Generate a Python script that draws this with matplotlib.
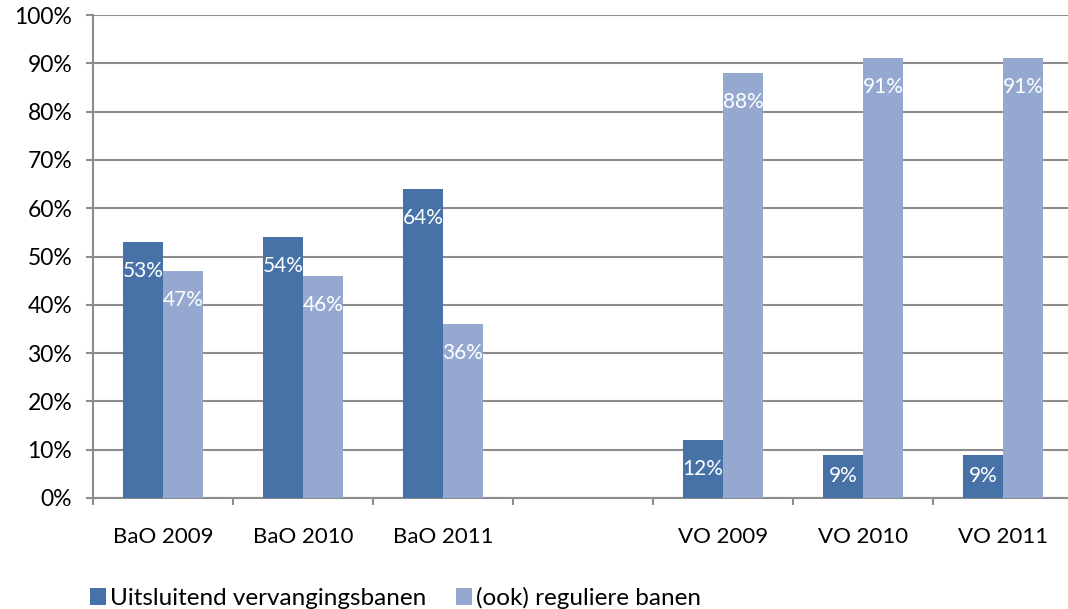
import numpy as np
import matplotlib
matplotlib.use("Agg")
import matplotlib.pyplot as plt
from matplotlib.ticker import FixedLocator, PercentFormatter

plt.rcParams['font.family'] = ['Lato', 'DejaVu Sans']

categories = ['BaO 2009', 'BaO 2010', 'BaO 2011', '', 'VO 2009', 'VO 2010', 'VO 2011']
uitsluitend = [53, 54, 64, np.nan, 12, 9, 9]
regulier = [47, 46, 36, np.nan, 88, 91, 91]
series_names = ['Uitsluitend vervangingsbanen', '(ook) reguliere banen']

dark = '#4672A7'
light = '#95A9D0'
grid_col = '#8C8C8C'

fig = plt.figure(figsize=(10.68, 6.09), dpi=100)
ax = fig.add_axes([93/1068, 111/609, 980/1068, 483/609])

x = np.arange(len(categories))
w = 0.286
b1 = ax.bar(x - w/2, uitsluitend, w, color=dark, label=series_names[0], zorder=3)
b2 = ax.bar(x + w/2, regulier, w, color=light, label=series_names[1], zorder=3)

# data labels, inside end
for xs, vals in ((x - w/2, uitsluitend), (x + w/2, regulier)):
    for xi, v in zip(xs, vals):
        if np.isnan(v):
            continue
        ax.text(xi, max(v - 6, v / 2), f'{v:.0f}%', ha='center', va='center',
                color='white', fontsize=15, zorder=4)

ax.set_xlim(-0.5, len(categories) - 0.5)
ax.set_ylim(0, 100)
ax.yaxis.set_major_locator(FixedLocator(np.arange(0, 101, 10)))
ax.yaxis.set_major_formatter(PercentFormatter(decimals=0))
ax.yaxis.grid(True, color=grid_col, linewidth=1.5, zorder=0)
ax.set_axisbelow(True)

ax.set_xticks(x)
ax.set_xticklabels(categories)
ax.set_xticks(np.arange(-0.5, len(categories)), minor=True)
ax.tick_params(axis='x', which='major', length=0, pad=21, labelsize=16)
ax.tick_params(axis='x', which='minor', length=5, width=1.5, color=grid_col)
ax.tick_params(axis='y', length=5, width=1.5, color=grid_col, pad=10, labelsize=16.5)

for s in ('top', 'right'):
    ax.spines[s].set_visible(False)
for s in ('left', 'bottom'):
    ax.spines[s].set_color(grid_col)
    ax.spines[s].set_linewidth(1.5)

fig.legend(handles=[b1, b2], loc='lower left', bbox_to_anchor=(80/1068, -0.016),
           ncol=2, frameon=False, fontsize=17.5, handlelength=0.65, handleheight=0.65,
           handletextpad=0.2, columnspacing=1.2, borderaxespad=0)

fig.savefig('out.png', dpi=100)
